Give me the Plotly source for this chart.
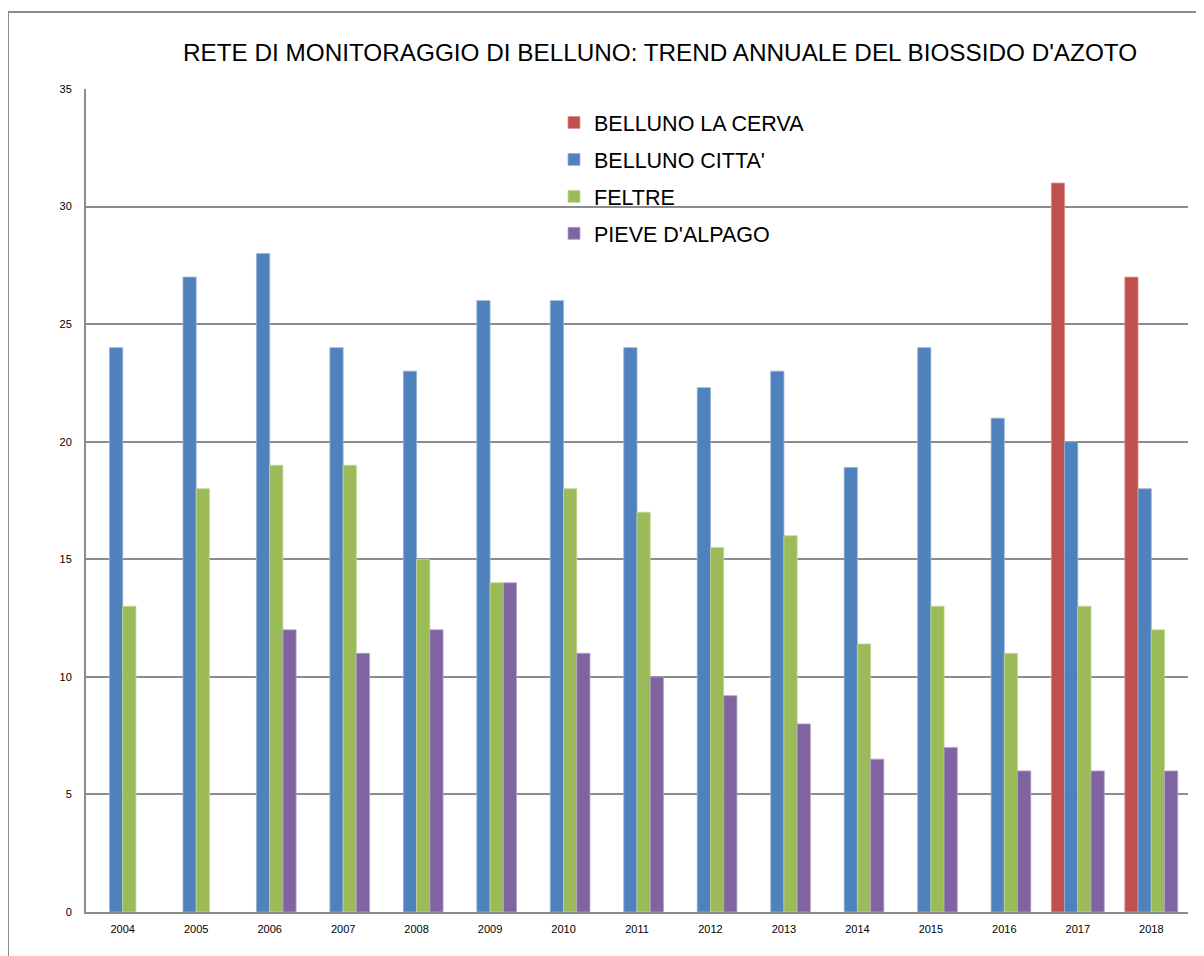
import plotly.graph_objects as go

years = ["2004", "2005", "2006", "2007", "2008", "2009", "2010", "2011",
         "2012", "2013", "2014", "2015", "2016", "2017", "2018"]
la_cerva = [None, None, None, None, None, None, None, None,
            None, None, None, None, None, 31, 27]
citta = [24, 27, 28, 24, 23, 26, 26, 24, 22.3, 23, 18.9, 24, 21, 20, 18]
feltre = [13, 18, 19, 19, 15, 14, 18, 17, 15.5, 16, 11.4, 13, 11, 13, 12]
pieve = [None, None, 12, 11, 12, 14, 11, 10, 9.2, 8, 6.5, 7, 6, 6, 6]

series = [
    ("BELLUNO LA CERVA", la_cerva, "#C0504D", "#D99694"),
    ("BELLUNO CITTA'", citta, "#4F81BD", "#95B3D7"),
    ("FELTRE", feltre, "#9BBB59", "#C3D69B"),
    ("PIEVE D'ALPAGO", pieve, "#8064A2", "#B3A2C7"),
]

FONT = "Liberation Sans, Arial, sans-serif"

fig = go.Figure()
for i, (name, vals, col, edge) in enumerate(series):
    fig.add_trace(go.Bar(
        x=years, y=vals, name=name, legendgroup=f"g{i}",
        marker=dict(color=col, line=dict(color=edge, width=0.8)),
    ))

# page body has an 8px margin; work in reference pixel coords and shift
OFF = 8
W, H = 1204 - OFF, 956 - OFF
L, T = 86 - OFF, 89 - OFF
PR, PB = 1188 - OFF, 912 - OFF
R, B = W - PR, H - PB
pw, ph = PR - L, PB - T

def px(x):
    return (x - OFF - L) / pw

def py(y):
    return (PB - (y - OFF)) / ph

fig.update_layout(
    width=W, height=H,
    margin=dict(l=L, r=R, t=T, b=B),
    paper_bgcolor="white", plot_bgcolor="white",
    font=dict(family=FONT, color="black"),
    barmode="group", bargap=0.28, bargroupgap=0,
    showlegend=True,
    legend=dict(
        x=px(554), y=py(102), xanchor="left", yanchor="top",
        bgcolor="rgba(0,0,0,0)", font=dict(size=21.5, family=FONT),
        traceorder="grouped", tracegroupgap=6,
    ),
    title=dict(
        text="RETE DI MONITORAGGIO DI BELLUNO: TREND ANNUALE DEL BIOSSIDO D'AZOTO",
        xref="container", yref="container",
        x=(660 - OFF) / W, xanchor="center", y=1 - (52 - OFF) / H, yanchor="middle",
        font=dict(size=24.3, family=FONT, color="black"),
    ),
    xaxis=dict(
        type="category", showgrid=False, showline=True,
        linecolor="#8c8c8c", linewidth=2, ticks="",
        tickfont=dict(size=11, family=FONT), ticklabelstandoff=6,
    ),
    yaxis=dict(
        range=[0, 35], dtick=5, tick0=0, showgrid=True,
        gridcolor="#8c8c8c", gridwidth=1.5, showline=True,
        linecolor="#8c8c8c", linewidth=2, ticks="", zeroline=False,
        tickfont=dict(size=11, family=FONT), ticklabelstandoff=10,
    ),
    shapes=[dict(
        type="rect", xref="paper", yref="paper",
        x0=px(8), x1=px(1230), y0=py(990), y1=py(12),
        line=dict(color="#8c8c8c", width=2), fillcolor="rgba(0,0,0,0)",
        layer="below",
    )],
)

fig.write_html("out.html")
